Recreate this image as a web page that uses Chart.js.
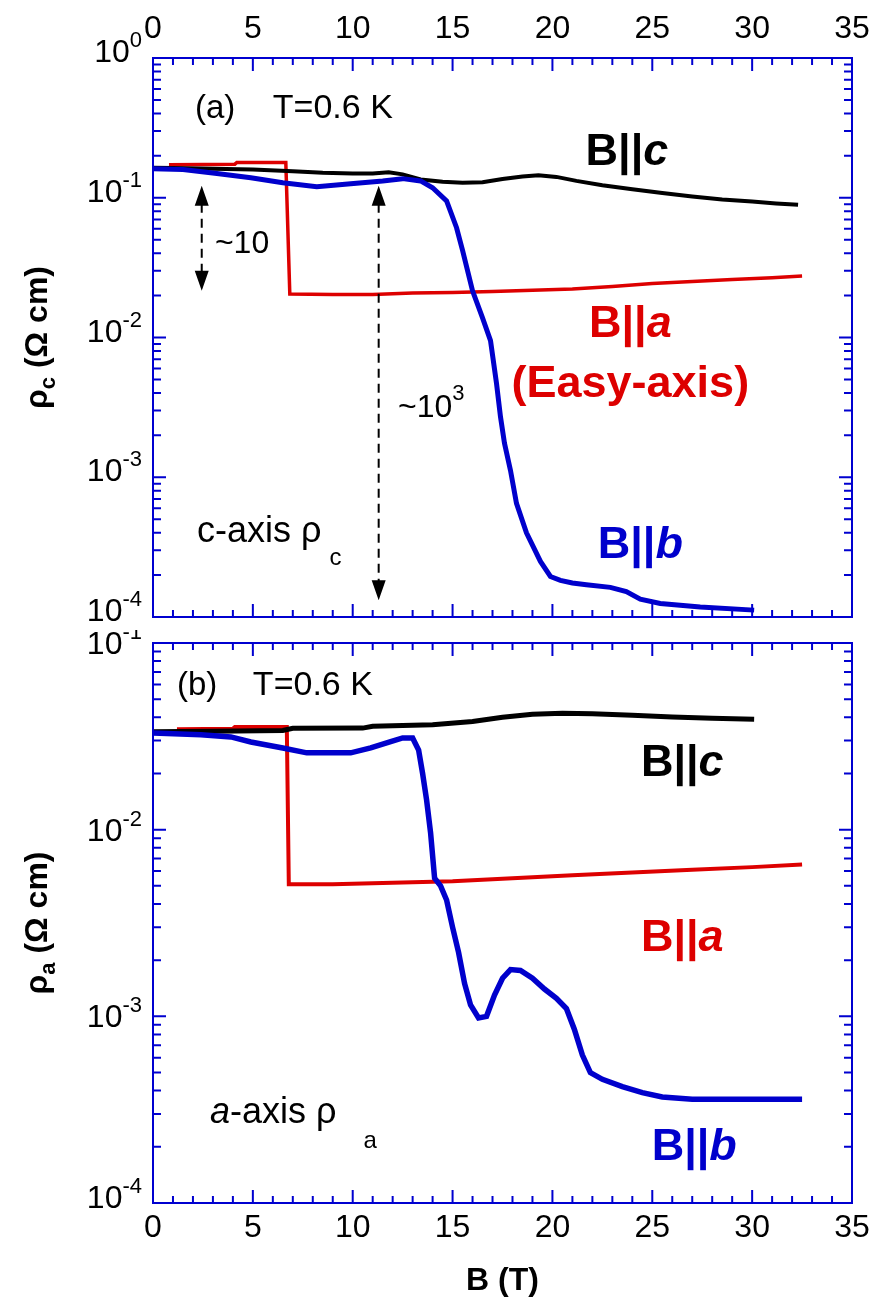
<!DOCTYPE html>
<html>
<head>
<meta charset="utf-8">
<script src="https://cdn.jsdelivr.net/npm/chart.js@4/dist/chart.umd.min.js"></script>
<style>
  html, body { margin: 0; padding: 0; background: #fff; }
  #wrap { position: relative; width: 882px; height: 1302px; }
  canvas { position: absolute; left: 0; }
</style>
</head>
<body>
<div id="wrap">
  <canvas id="panelA" width="882" height="630" style="top:0px"></canvas>
  <canvas id="panelB" width="882" height="672" style="top:630px"></canvas>
</div>
<script>
// ---------- data: panel (a), c-axis resistivity ----------
const fieldA_c = [0, 1, 3, 5, 7, 8.5, 10, 11, 11.8, 12.5, 13.4, 14.5, 15.5, 16.5, 17.5, 18.5, 19.3, 20.2, 21.2, 22.5, 24, 25.5, 27, 28.5, 30, 31.2, 32.3];
const rhoA_c   = [0.164, 0.163, 0.161, 0.159, 0.155, 0.151, 0.149, 0.149, 0.152, 0.147, 0.135, 0.13, 0.128, 0.129, 0.136, 0.142, 0.145, 0.141, 0.132, 0.123, 0.115, 0.108, 0.102, 0.097, 0.094, 0.091, 0.089];

const fieldA_a = [0.8, 2.5, 4.1, 4.2, 6.65, 6.85, 9, 11, 13, 15, 17, 19, 21, 23, 25, 27, 29, 31, 32.5];
const rhoA_a   = [0.172, 0.173, 0.174, 0.179, 0.179, 0.0205, 0.0203, 0.0203, 0.0208, 0.021, 0.0213, 0.0218, 0.0222, 0.0232, 0.0243, 0.0252, 0.026, 0.0268, 0.0275];

const fieldA_b = [0, 1.5, 3.2, 4.9, 6.5, 8.2, 9.9, 11.5, 12.5, 13.4, 14.0, 14.7, 15.2, 15.5, 16.0, 16.5, 16.9, 17.2, 17.4, 17.6, 17.9, 18.2, 18.7, 19.4, 19.9, 20.4, 21.0, 21.7, 22.9, 23.7, 24.4, 25.4, 27.4, 30.1];
const rhoA_b   = [0.161, 0.159, 0.149, 0.139, 0.128, 0.12, 0.126, 0.132, 0.137, 0.132, 0.118, 0.095, 0.061, 0.042, 0.0216, 0.0138, 0.0095, 0.0047, 0.0027, 0.00175, 0.00112, 0.00065, 0.0004, 0.00025, 0.000195, 0.000183, 0.000175, 0.00017, 0.000163, 0.000152, 0.000134, 0.000125, 0.000118, 0.000112];

// ---------- data: panel (b), a-axis resistivity ----------
const fieldB_c = [0, 3, 6.5, 7, 10.5, 11, 14, 16, 17.5, 19, 20.5, 22, 24, 26, 28, 30.1];
const rhoB_c   = [0.0335, 0.0337, 0.034, 0.0349, 0.035, 0.0358, 0.0365, 0.038, 0.040, 0.0415, 0.042, 0.0418, 0.041, 0.0402, 0.0395, 0.039];

const fieldB_a = [1.2, 4.0, 4.1, 6.7, 6.8, 9, 12, 15, 18, 21, 24, 27, 30, 32.5];
const rhoB_a   = [0.0345, 0.0347, 0.0355, 0.0355, 0.0051, 0.0051, 0.0052, 0.0053, 0.0055, 0.0057, 0.0059, 0.0061, 0.0063, 0.0065];

const fieldB_b = [0, 2.4, 3.9, 4.9, 6.5, 7.7, 9.9, 10.9, 11.9, 12.5, 13.0, 13.3, 13.5, 13.7, 13.9, 14.1, 14.4, 14.7, 15.0, 15.3, 15.6, 15.9, 16.3, 16.7, 17.1, 17.5, 17.9, 18.4, 19.0, 19.6, 20.2, 20.7, 21.1, 21.5, 21.9, 22.5, 23.5, 24.5, 25.5, 27, 29, 31, 32.5];
const rhoB_b   = [0.033, 0.0322, 0.0314, 0.0295, 0.0274, 0.0258, 0.0258, 0.0274, 0.0296, 0.031, 0.031, 0.0267, 0.020, 0.0144, 0.0096, 0.0055, 0.005, 0.0042, 0.003, 0.0022, 0.0015, 0.00115, 0.00098, 0.001, 0.0013, 0.0016, 0.00178, 0.00176, 0.0016, 0.0014, 0.00125, 0.0011, 0.00085, 0.00062, 0.0005, 0.00046, 0.00042, 0.00039, 0.00037, 0.00036, 0.00036, 0.00036, 0.00036];

// ---------- tick labels ----------
const fieldTicks = [0, 5, 10, 15, 20, 25, 30, 35];
const fieldTickLabels = ["0", "5", "10", "15", "20", "25", "30", "35"];
const expsA = [0, -1, -2, -3, -4];
const expsB = [-1, -2, -3, -4];
const expLabelsA = ["0", "-1", "-2", "-3", "-4"];
const expLabelsB = ["-1", "-2", "-3", "-4"];

// ---------- styles ----------
const FONT = '"Liberation Sans", Arial, Helvetica, sans-serif';
const AXIS = "#0000d0";
const RED = "#dd0000";
const BLUE = "#0000cc";

function pts(xs, ys) {
  return xs.map((x, i) => ({ x: x, y: ys[i] }));
}

function drawRich(ctx, parts, x, y, align) {
  let total = 0;
  parts.forEach(p => {
    ctx.font = p.font;
    p.w = ctx.measureText(p.t).width;
    total += p.w + (p.dx || 0);
  });
  let cx = align === "center" ? x - total / 2 : (align === "right" ? x - total : x);
  ctx.textAlign = "left";
  ctx.textBaseline = "alphabetic";
  parts.forEach(p => {
    ctx.font = p.font;
    cx += (p.dx || 0);
    ctx.fillText(p.t, cx, y + (p.dy || 0));
    cx += p.w;
  });
}

function drawArrow(ctx, x, y1, y2) {
  const head = 20, half = 7;
  ctx.save();
  ctx.strokeStyle = "#000";
  ctx.fillStyle = "#000";
  ctx.lineWidth = 2;
  ctx.setLineDash([9, 6]);
  ctx.beginPath();
  ctx.moveTo(x, y1 + head - 2);
  ctx.lineTo(x, y2 - head + 2);
  ctx.stroke();
  ctx.setLineDash([]);
  ctx.beginPath();
  ctx.moveTo(x, y1); ctx.lineTo(x - half, y1 + head); ctx.lineTo(x + half, y1 + head); ctx.closePath();
  ctx.moveTo(x, y2); ctx.lineTo(x - half, y2 - head); ctx.lineTo(x + half, y2 - head); ctx.closePath();
  ctx.fill();
  ctx.restore();
}

// frame, inward ticks, labels and annotations
function decor(cfg) {
  return {
    id: "decor",
    afterDraw(chart) {
      const ctx = chart.ctx, a = chart.chartArea;
      const xs = chart.scales.x, ys = chart.scales.y;
      ctx.save();

      ctx.strokeStyle = AXIS;
      ctx.lineWidth = 2;
      ctx.strokeRect(a.left, a.top, a.right - a.left, a.bottom - a.top);
      ctx.beginPath();
      for (let v = 0; v <= 35; v++) {
        const px = xs.getPixelForValue(v);
        const len = v % 5 === 0 ? 13 : 7;
        ctx.moveTo(px, a.top); ctx.lineTo(px, a.top + len);
        ctx.moveTo(px, a.bottom); ctx.lineTo(px, a.bottom - len);
      }
      for (let e = cfg.minExp; e <= cfg.maxExp; e++) {
        for (let m = 1; m <= 9; m++) {
          if (e === cfg.maxExp && m > 1) break;
          const py = ys.getPixelForValue(m * Math.pow(10, e));
          const len = m === 1 ? 13 : 8;
          ctx.moveTo(a.left, py); ctx.lineTo(a.left + len, py);
          ctx.moveTo(a.right, py); ctx.lineTo(a.right - len, py);
        }
      }
      ctx.stroke();

      ctx.fillStyle = "#000";
      // field tick labels
      fieldTicks.forEach((v, i) => {
        const px = xs.getPixelForValue(v);
        const y = cfg.xLabelsTop ? a.top - 20 : a.bottom + 34;
        drawRich(ctx, [{ t: fieldTickLabels[i], font: "32px " + FONT }], px, y, "center");
      });
      // log tick labels
      cfg.exps.forEach((e, i) => {
        const py = ys.getPixelForValue(Math.pow(10, e));
        drawRich(ctx, [
          { t: "10", font: "32px " + FONT },
          { t: cfg.expLabels[i], font: "22px " + FONT, dy: -15 }
        ], a.left - 11, py + cfg.yShift(e), "right");
      });

      // x title
      if (cfg.xTitle) {
        drawRich(ctx, [{ t: cfg.xTitle, font: "bold 32px " + FONT }], (a.left + a.right) / 2, a.bottom + 87, "center");
      }

      // y title (rotated)
      ctx.save();
      ctx.translate(a.left - 106, (a.top + a.bottom) / 2);
      ctx.rotate(-Math.PI / 2);
      drawRich(ctx, cfg.yTitle, 0, 0, "center");
      ctx.restore();

      // annotations
      cfg.texts.forEach(t => {
        ctx.fillStyle = t.color || "#000";
        drawRich(ctx, t.parts, xs.getPixelForValue(t.B), ys.getPixelForValue(t.rho), t.align || "left");
      });
      (cfg.arrows || []).forEach(ar => {
        drawArrow(ctx, xs.getPixelForValue(ar.B), ys.getPixelForValue(ar.top), ys.getPixelForValue(ar.bottom));
      });
      ctx.restore();
    }
  };
}

function makePanel(id, datasets, yMin, yMax, padding, cfg) {
  return new Chart(document.getElementById(id), {
    type: "line",
    data: { datasets: datasets },
    options: {
      responsive: false,
      animation: false,
      devicePixelRatio: 1,
      layout: { padding: padding },
      plugins: { legend: { display: false }, tooltip: { enabled: false } },
      elements: { point: { radius: 0 }, line: { tension: 0 } },
      scales: {
        x: { type: "linear", min: 0, max: 35, display: false },
        y: { type: "logarithmic", min: yMin, max: yMax, display: false }
      }
    },
    plugins: [decor(cfg)]
  });
}

const bold45 = "bold 45px " + FONT;
const boldIt45 = "italic bold 45px " + FONT;

// ---------- panel (a) ----------
makePanel("panelA", [
  { data: pts(fieldA_b, rhoA_b), borderColor: BLUE, borderWidth: 5 },
  { data: pts(fieldA_c, rhoA_c), borderColor: "#000", borderWidth: 4 },
  { data: pts(fieldA_a, rhoA_a), borderColor: RED, borderWidth: 3.5 }
], 1e-4, 1, { left: 153, top: 58, right: 30, bottom: 13 }, {
  minExp: -4, maxExp: 0,
  exps: expsA, expLabels: expLabelsA,
  yShift: e => 4,
  xLabelsTop: true,
  yTitle: [
    { t: "\u03c1", font: "bold 32px " + FONT },
    { t: "c", font: "bold 22px " + FONT, dy: 8 },
    { t: " (\u03a9 cm)", font: "bold 32px " + FONT }
  ],
  texts: [
    { parts: [{ t: "(a)", font: "33px " + FONT }], B: 2.1, rho: 0.372 },
    { parts: [{ t: "T=0.6 K", font: "34px " + FONT }], B: 6.0, rho: 0.372 },
    { parts: [{ t: "B||", font: bold45 }, { t: "c", font: boldIt45 }], B: 23.73, rho: 0.1715, align: "center" },
    { parts: [{ t: "B||", font: bold45 }, { t: "a", font: boldIt45 }], B: 23.9, rho: 0.0101, align: "center", color: RED },
    { parts: [{ t: "(Easy-axis)", font: bold45 }], B: 23.9, rho: 0.00375, align: "center", color: RED },
    { parts: [{ t: "B||", font: bold45 }, { t: "b", font: boldIt45 }], B: 24.4, rho: 0.000264, align: "center", color: BLUE },
    { parts: [{ t: "c-axis \u03c1", font: "36px " + FONT }, { t: "c", font: "24px " + FONT, dx: 8, dy: 23 }], B: 2.2, rho: 0.000344 },
    { parts: [{ t: "~10", font: "32px " + FONT }], B: 3.1, rho: 0.0402 },
    { parts: [{ t: "~10", font: "32px " + FONT }, { t: "3", font: "22px " + FONT, dy: -17 }], B: 12.27, rho: 0.0027 }
  ],
  arrows: [
    { B: 2.44, top: 0.122, bottom: 0.0216 },
    { B: 11.3, top: 0.122, bottom: 0.000132 }
  ]
});

// ---------- panel (b) ----------
makePanel("panelB", [
  { data: pts(fieldB_b, rhoB_b), borderColor: BLUE, borderWidth: 5.5 },
  { data: pts(fieldB_c, rhoB_c), borderColor: "#000", borderWidth: 5 },
  { data: pts(fieldB_a, rhoB_a), borderColor: RED, borderWidth: 4 }
], 1e-4, 1e-1, { left: 153, top: 13, right: 30, bottom: 99 }, {
  minExp: -4, maxExp: -1,
  exps: expsB, expLabels: expLabelsB,
  yShift: e => (e === -4 ? 5 : 11),
  xLabelsTop: false,
  xTitle: "B (T)",
  yTitle: [
    { t: "\u03c1", font: "bold 32px " + FONT },
    { t: "a", font: "bold 22px " + FONT, dy: 8 },
    { t: " (\u03a9 cm)", font: "bold 32px " + FONT }
  ],
  texts: [
    { parts: [{ t: "(b)", font: "33px " + FONT }], B: 1.2, rho: 0.0526 },
    { parts: [{ t: "T=0.6 K", font: "34px " + FONT }], B: 5.0, rho: 0.0526 },
    { parts: [{ t: "B||", font: bold45 }, { t: "c", font: boldIt45 }], B: 26.5, rho: 0.0194, align: "center" },
    { parts: [{ t: "B||", font: bold45 }, { t: "a", font: boldIt45 }], B: 26.5, rho: 0.00224, align: "center", color: RED },
    { parts: [{ t: "B||", font: bold45 }, { t: "b", font: boldIt45 }], B: 27.1, rho: 0.00017, align: "center", color: BLUE },
    { parts: [{ t: "a", font: "italic 36px " + FONT }, { t: "-axis \u03c1", font: "36px " + FONT }, { t: "a", font: "24px " + FONT, dx: 27, dy: 25 }], B: 2.85, rho: 0.000268 }
  ]
});
</script>
</body>
</html>
